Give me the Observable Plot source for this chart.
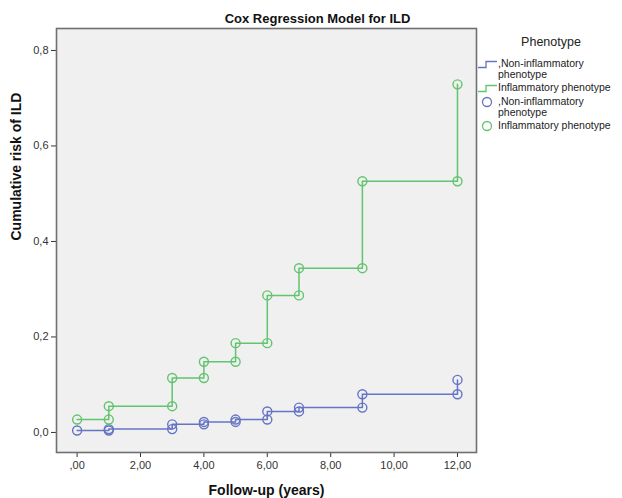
<!DOCTYPE html>
<html>
<head>
<meta charset="utf-8">
<script src="https://cdn.jsdelivr.net/npm/d3@7"></script>
<script src="https://cdn.jsdelivr.net/npm/@observablehq/plot@0.6"></script>
<style>
  body { margin: 0; background: #fff; font-family: "Liberation Sans", Arial, sans-serif; }
  #wrap { position: relative; width: 622px; height: 498px; }
  #legend { position: absolute; left: 478px; top: 35px; width: 144px; font-size: 10.5px; color: #222; line-height: 11px; }
  .lg-title { font-size: 12.5px; line-height: 14px; text-align: center; margin-left: 2px; margin-bottom: 9px; color: #222; }
  .row { display: flex; align-items: flex-start; margin-bottom: 2px; }
  .row svg { flex: none; margin-right: 1px; }
</style>
</head>
<body>
<div id="wrap"></div>
<script>
const times = [0, 1, 3, 4, 5, 6, 7, 9, 12];
const nonInflammatory = [0.004, 0.007, 0.017, 0.022, 0.027, 0.044, 0.052, 0.080, 0.110];
const inflammatory = [0.027, 0.055, 0.114, 0.148, 0.187, 0.287, 0.344, 0.526, 0.729];
const groups = [",Non-inflammatory phenotype", "Inflammatory phenotype"];
const colors = ["#6674c4", "#62c46e"];
const xTicks = [0, 2, 4, 6, 8, 10, 12];
const yTicks = [0, 0.2, 0.4, 0.6, 0.8];

const series = [nonInflammatory, inflammatory];
const lineData = [];
const pointData = [];
series.forEach((vals, g) => {
  times.forEach((t, i) => {
    lineData.push({t, v: vals[i], g: groups[g]});
    if (i > 0) pointData.push({t, v: vals[i - 1], g: groups[g]});
    pointData.push({t, v: vals[i], g: groups[g]});
  });
});

const fmtX = d => d === 0 ? ",00" : d.toFixed(2).replace(".", ",");
const fmtY = d => d.toFixed(1).replace(".", ",");

const chart = Plot.plot({
  width: 622,
  height: 498,
  marginLeft: 56,
  marginRight: 146,
  marginTop: 28,
  marginBottom: 46,
  style: {fontFamily: "'Liberation Sans', Arial, sans-serif", fontSize: "11px", color: "#333", background: "transparent"},
  x: {domain: [-0.65, 12.6], ticks: xTicks, tickFormat: fmtX, label: null},
  y: {domain: [-0.042, 0.846], ticks: yTicks, tickFormat: fmtY, label: null},
  color: {domain: groups, range: colors},
  marks: [
    Plot.frame({fill: "#f0f0f0", stroke: "none"}),
    Plot.axisX({ticks: xTicks, tickFormat: fmtX, tickSize: 5, tickPadding: 4, stroke: "#333", label: null}),
    Plot.axisY({ticks: yTicks, tickFormat: fmtY, tickSize: 5, tickPadding: 3, stroke: "#333", label: null}),
    Plot.line(lineData, {x: "t", y: "v", z: "g", stroke: "g", curve: "step-after", strokeWidth: 1.5}),
    Plot.dot(pointData, {x: "t", y: "v", stroke: "g", r: 4.5, strokeWidth: 1.4, fill: "none"}),
    Plot.frame({stroke: "#707070", strokeWidth: 1.6}),
    Plot.text(["Cox Regression Model for ILD"], {frameAnchor: "top", lineAnchor: "middle", dy: -10, dx: 51, fontWeight: "bold", fontSize: 13, fill: "#111"}),
    Plot.text(["Follow-up (years)"], {frameAnchor: "bottom", lineAnchor: "middle", dy: 38, fontWeight: "bold", fontSize: 14, fill: "#111"}),
    Plot.text(["Cumulative risk of ILD"], {frameAnchor: "left", dx: -40, rotate: -90, fontWeight: "bold", fontSize: 14, fill: "#111"})
  ]
});

const wrap = document.getElementById("wrap");
wrap.appendChild(chart);

const legend = document.createElement("div");
legend.id = "legend";
const stepIcon = c => `<svg width="19" height="12"><path d="M0,9.5 H8 V3.5 H19" fill="none" stroke="${c}" stroke-width="1.3"/></svg>`;
const dotIcon = c => `<svg width="19" height="12"><circle cx="9" cy="6" r="4.5" fill="none" stroke="${c}" stroke-width="1.3"/></svg>`;
legend.innerHTML =
  `<div class="lg-title">Phenotype</div>` +
  `<div class="row">${stepIcon(colors[0])}<span>,Non-inflammatory<br>phenotype</span></div>` +
  `<div class="row">${stepIcon(colors[1])}<span>Inflammatory phenotype</span></div>` +
  `<div class="row">${dotIcon(colors[0])}<span>,Non-inflammatory<br>phenotype</span></div>` +
  `<div class="row">${dotIcon(colors[1])}<span>Inflammatory phenotype</span></div>`;
wrap.appendChild(legend);
</script>
</body>
</html>
